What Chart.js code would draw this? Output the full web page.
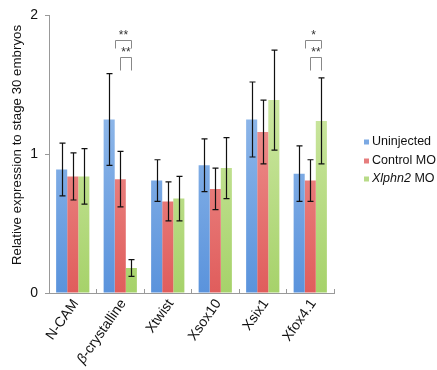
<!DOCTYPE html>
<html lang="en">
<head>
  <meta charset="UTF-8" />
  <title>Relative expression</title>
  <script src="https://cdn.jsdelivr.net/npm/chart.js"></script>
  <style>
    body { margin: 0; padding: 0; background: white; }
    #wrap { width: 437px; height: 370px; }
  </style>
</head>
<body>
  <div id="wrap"><canvas id="chart" width="437" height="370"></canvas></div>

  <script>
    const genes = ['N-CAM', '\u03B2-crystalline', 'Xtwist', 'Xsox10', 'Xsix1', 'Xfox4.1'];
    const seriesNames = ['Uninjected', 'Control MO', 'Xlphn2 MO'];
    const yTitle = 'Relative expression to stage 30 embryos';

    const uninjected = [0.89, 1.25, 0.81, 0.92, 1.25, 0.86];
    const controlMO  = [0.84, 0.82, 0.66, 0.75, 1.16, 0.81];
    const xlphn2MO   = [0.84, 0.18, 0.68, 0.90, 1.39, 1.24];

    const errUninjected = [0.19, 0.33, 0.15, 0.19, 0.27, 0.20];
    const errControl    = [0.17, 0.20, 0.14, 0.15, 0.23, 0.15];
    const errXlphn2     = [0.20, 0.06, 0.16, 0.22, 0.36, 0.31];

    const yTicks = [0, 1, 2];

    // significance brackets: category index, from series, to series, level, label
    const brackets = [
      { cat: 1, from: 0, to: 2, level: 1.82, label: '**' },
      { cat: 1, from: 1, to: 2, level: 1.70, label: '**' },
      { cat: 5, from: 0, to: 2, level: 1.82, label: '*' },
      { cat: 5, from: 1, to: 2, level: 1.70, label: '**' }
    ];

    const palettes = [
      ['#aacaf0', '#5a93dc'],
      ['#f4aba8', '#e05d5c'],
      ['#ddf0ba', '#a6d26a']
    ];

    const FONT = '"Liberation Sans", Arial, sans-serif';

    function gradientFor(idx) {
      return function (ctx) {
        const chart = ctx.chart;
        const area = chart.chartArea;
        if (!area) return palettes[idx][1];
        const g = chart.ctx.createLinearGradient(0, area.top, 0, area.bottom);
        g.addColorStop(0, palettes[idx][0]);
        g.addColorStop(1, palettes[idx][1]);
        return g;
      };
    }

    const errors = [errUninjected, errControl, errXlphn2];

    const errorBars = {
      id: 'errorBars',
      afterDatasetsDraw(chart) {
        const c = chart.ctx;
        const y = chart.scales.y;
        c.save();
        c.strokeStyle = '#111';
        c.lineWidth = 1.2;
        chart.data.datasets.forEach((ds, di) => {
          const meta = chart.getDatasetMeta(di);
          meta.data.forEach((bar, i) => {
            const v = ds.data[i];
            const e = errors[di][i];
            const x = Math.round(bar.x) + 0.5;
            const yt = y.getPixelForValue(v + e);
            const yb = y.getPixelForValue(v - e);
            c.beginPath();
            c.moveTo(x, yt); c.lineTo(x, yb);
            c.moveTo(x - 3, yt); c.lineTo(x + 3, yt);
            c.moveTo(x - 3, yb); c.lineTo(x + 3, yb);
            c.stroke();
          });
        });

        // brackets
        c.strokeStyle = '#888';
        c.lineWidth = 1;
        c.fillStyle = '#333';
        c.font = '12px ' + FONT;
        c.textAlign = 'center';
        c.textBaseline = 'bottom';
        brackets.forEach(b => {
          const m0 = chart.getDatasetMeta(b.from).data[b.cat];
          const m1 = chart.getDatasetMeta(b.to).data[b.cat];
          let x0 = m0.x;
          if (b.from === 0) {
            x0 = (m0.x + chart.getDatasetMeta(1).data[b.cat].x) / 2;
          }
          x0 = Math.round(x0) + 0.5;
          const x1 = Math.round(m1.x) + 0.5;
          const yl = Math.round(y.getPixelForValue(b.level)) + 0.5;
          const legLen = b.from === 0 ? 8 : 13;
          c.beginPath();
          c.moveTo(x0, yl + legLen); c.lineTo(x0, yl); c.lineTo(x1, yl); c.lineTo(x1, yl + legLen);
          c.stroke();
          c.fillText(b.label, (x0 + x1) / 2, yl + 1);
        });
        c.restore();
      }
    };

    const extras = {
      id: 'extras',
      afterDraw(chart) {
        const c = chart.ctx;
        const xs = chart.scales.x;

        // category labels, rotated 55 degrees, beta in italics
        genes.forEach((g, i) => {
          const px = xs.getPixelForTick(i) + 3;
          const py = xs.top + 8;
          c.save();
          c.translate(px, py);
          c.rotate(-55 * Math.PI / 180);
          c.fillStyle = '#111';
          c.textBaseline = 'middle';
          c.textAlign = 'left';
          let head = '', rest = g;
          if (g.charAt(0) === '\u03B2') { head = '\u03B2'; rest = g.slice(1); }
          c.font = 'italic 14px ' + FONT;
          const wh = head ? c.measureText(head).width : 0;
          c.font = '14px ' + FONT;
          const wr = c.measureText(rest).width;
          let x = -(wh + wr);
          if (head) {
            c.font = 'italic 14px ' + FONT;
            c.fillText(head, x, 0);
            x += wh;
          }
          c.font = '14px ' + FONT;
          c.fillText(rest, x, 0);
          c.restore();
        });

        c.save();
        // y axis title
        c.translate(17, 145);
        c.rotate(-Math.PI / 2);
        c.fillStyle = '#111';
        c.font = '13.3px ' + FONT;
        c.textAlign = 'center';
        c.textBaseline = 'middle';
        c.fillText(yTitle, 0, 0);
        c.restore();

        // legend
        c.save();
        c.textBaseline = 'middle';
        c.textAlign = 'left';
        const rows = [142, 161, 179];
        seriesNames.forEach((name, i) => {
          c.fillStyle = palettes[i][1];
          c.globalAlpha = 0.8;
          c.fillRect(364, rows[i] - 2.5, 5, 5);
          c.globalAlpha = 1;
          c.fillStyle = '#111';
          if (i === 2) {
            c.font = 'italic 12.5px ' + FONT;
            c.fillText('Xlphn2', 372, rows[i]);
            const w = c.measureText('Xlphn2').width;
            c.font = '12.5px ' + FONT;
            c.fillText(' MO', 372 + w, rows[i]);
          } else {
            c.font = '12.5px ' + FONT;
            c.fillText(name, 372, rows[i]);
          }
        });
        c.restore();
      }
    };

    new Chart(document.getElementById('chart'), {
      type: 'bar',
      data: {
        labels: genes,
        datasets: [
          { label: seriesNames[0], data: uninjected, backgroundColor: gradientFor(0) },
          { label: seriesNames[1], data: controlMO, backgroundColor: gradientFor(1) },
          { label: seriesNames[2], data: xlphn2MO, backgroundColor: gradientFor(2) }
        ]
      },
      options: {
        responsive: false,
        animation: false,
        layout: { padding: { top: 13, right: 103, left: 0, bottom: 0 } },
        datasets: { bar: { categoryPercentage: 0.7, barPercentage: 1.0 } },
        plugins: {
          legend: { display: false },
          tooltip: { enabled: false }
        },
        scales: {
          x: {
            afterFit(scale) { scale.height = 77; },
            grid: {
              display: true,
              drawOnChartArea: false,
              offset: true,
              tickLength: -4,
              color: '#999'
            },
            border: { color: '#999' },
            ticks: { display: false }
          },
          y: {
            min: 0,
            max: 2,
            afterFit(scale) { scale.width = 49; },
            afterBuildTicks(scale) { scale.ticks = yTicks.map(v => ({ value: v })); },
            grid: { drawOnChartArea: false, tickLength: 4, color: '#999' },
            border: { color: '#999' },
            ticks: {
              color: '#111',
              padding: 7,
              font: { family: FONT, size: 14 }
            }
          }
        }
      },
      plugins: [errorBars, extras]
    });
  </script>
</body>
</html>
